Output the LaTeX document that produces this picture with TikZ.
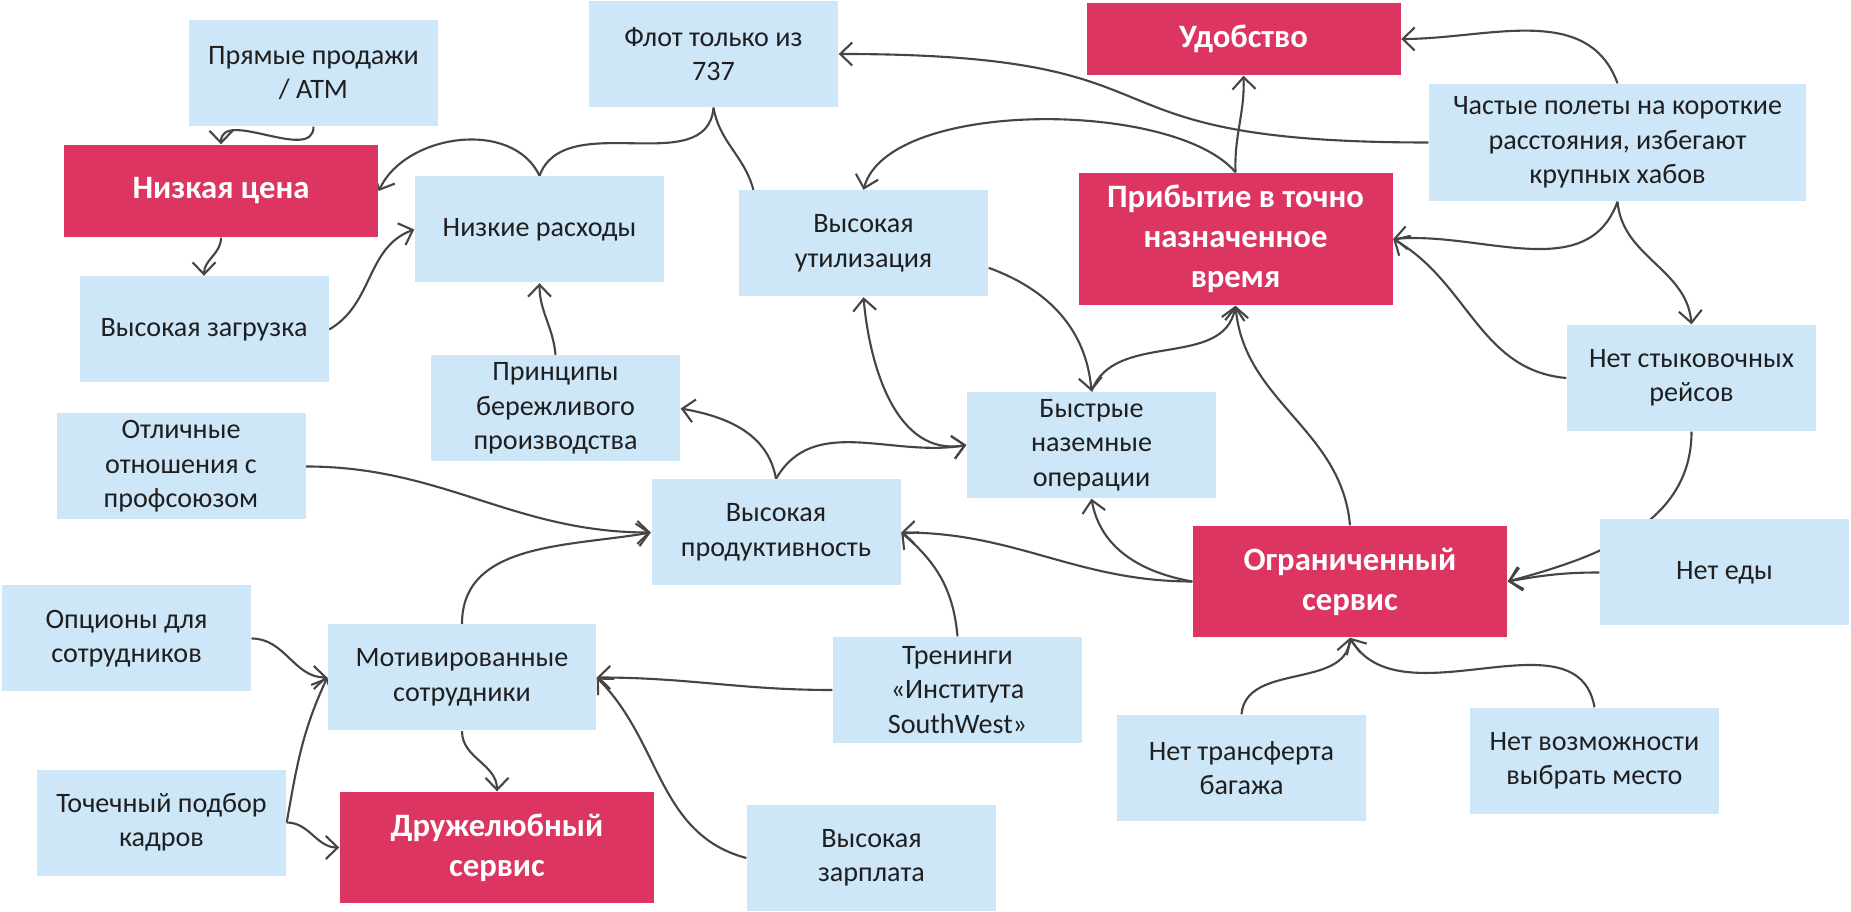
\documentclass[tikz,border=0pt]{standalone}
\usepackage{fontspec}
\setmainfont{Carlito}
\usetikzlibrary{arrows.meta,backgrounds}
\definecolor{ideablue}{HTML}{CDE6F8}
\definecolor{goalred}{HTML}{DC3562}
\definecolor{linkgray}{HTML}{454545}

\begin{document}
\begin{tikzpicture}[x=0.1mm, y=0.1mm,
        idea/.style={rectangle, fill=ideablue, text=black!88, align=center, inner sep=0pt,
            minimum width=24.9mm, minimum height=10.6mm, font=\fontsize{8}{9.8}\selectfont},
        goal/.style={rectangle, fill=goalred, text=white, align=center, inner sep=0pt,
            minimum width=31.4mm, minimum height=11.1mm, font=\fontsize{9.3}{11.4}\selectfont\bfseries},
        link/.style={->, >={Straight Barb[length=1.2mm, width=2.3mm]}, line width=0.6pt, color=linkgray}]
        \useasboundingbox (0,0) rectangle (1851,-912);

        \node[idea] (1) at (313.5,-73) {Прямые продажи\\/ ATM};
        \node[goal, minimum height=9.2mm] (2) at (221,-191) {Низкая цена};
        \node[idea] (3) at (713.5,-54) {Флот только из\\737};
        \node[idea] (4) at (539.5,-229.5) {Низкие расходы};
        \node[idea] (5) at (863.5,-243.5) {Высокая\\утилизация};
        \node[idea] (6) at (204,-329.5) {Высокая загрузка};
        \node[idea] (7) at (555.5,-408.5) {Принципы\\бережливого\\производства};
        \node[idea] (8) at (181,-466.5) {Отличные\\отношения с\\профсоюзом};
        \node[goal, minimum height=7.2mm] (9) at (1243.5,-39) {Удобство};
        \node[idea, minimum width=37.7mm, minimum height=11.7mm] (10) at (1617.5,-142.5) {Частые полеты на короткие\\расстояния, избегают\\крупных хабов};
        \node[goal, minimum height=13.2mm] (11) at (1235.5,-239) {Прибытие в точно\\назначенное\\время};
        \node[idea] (12) at (1691.5,-378) {Нет стыковочных\\рейсов};
        \node[idea] (13) at (1091.5,-445) {Быстрые\\наземные\\операции};
        \node[idea] (14) at (776,-532.5) {Высокая\\продуктивность};
        \node[goal] (15) at (1350,-581.5) {Ограниченный\\сервис};
        \node[idea] (16) at (1724.5,-572.5) {Нет еды};
        \node[idea] (17) at (126.5,-638.5) {Опционы для\\сотрудников};
        \node[idea, minimum width=26.8mm] (18) at (462,-677.5) {Мотивированные\\сотрудники};
        \node[idea] (19) at (957.5,-690) {Тренинги\\«Института\\SouthWest»};
        \node[idea] (20) at (161.5,-822.5) {Точечный подбор\\кадров};
        \node[goal] (21) at (497,-847.5) {Дружелюбный\\сервис};
        \node[idea] (22) at (871.5,-858) {Высокая\\зарплата};
        \node[idea] (23) at (1241.5,-768) {Нет трансферта\\багажа};
        \node[idea] (24) at (1594.5,-761) {Нет возможности\\выбрать место};

        \begin{scope}[on background layer]
            \fill[white] (0,0) rectangle (1851,-912);
            % left part
            \path[link] (1.south) edge[out=-90, in=90] (2.north)
                (4.north) edge[out=115, in=65] (2.east)
                (3.south) edge[-, out=-95, in=70] (4.north)
                (3.south) edge[-, out=-80, in=105] (5.154)
                (6.east) edge[out=30, in=200] (4.west)
                (2.south) edge[out=-90, in=90] (6.north)
                (7.north) edge[out=95, in=-90] (4.south)
                (14.north) edge[out=100, in=-10] (7.east)
                (14.north) edge[out=60, in=190] (13.west)
                (5.south) edge[<->, out=-85, in=190] (13.west);
            % top right
            \path[link] (10.west) edge[out=180, in=0, looseness=1.6] (3.east)
                (10.north) edge[out=110, in=0] (9.east)
                (10.south) edge[out=-110, in=5] (11.east)
                (10.south) edge[out=-85, in=95] (12.north)
                (11.north) edge[out=92, in=-88] (9.south)
                (11.north) edge[out=130, in=75, looseness=0.65] (5.north)
                (5.-11) edge[out=-20, in=95] (13.north)
                (13.north) edge[out=70, in=-100] (11.south)
                (12.west) edge[out=175, in=-30] (11.east);
            % limited service
            \path[link] (15.north) edge[out=95, in=-85] (11.south)
                (12.south) edge[out=-90, in=15] (15.east)
                (16.west) edge[out=180, in=10] (15.east)
                (15.west) edge[out=170, in=-80] (13.south)
                (15.west) edge[out=180, in=0] (14.east)
                (23.north) edge[out=85, in=-95] (15.south)
                (24.north) edge[out=100, in=-60] (15.south);
            % staff
            \path[link] (19.north) edge[out=95, in=-40] (14.east)
                (8.east) edge[out=0, in=180] (14.west)
                (18.north) edge[out=90, in=190] (14.west)
                (19.west) edge[out=180, in=0] (18.east)
                (22.west) edge[out=165, in=-45] (18.east)
                (17.east) edge[out=0, in=180] (18.west)
                (20.east) edge[out=80, in=-115] (18.west)
                (20.east) edge[out=0, in=180] (21.west)
                (18.south) edge[out=-90, in=90] (21.north);
        \end{scope}
    \end{tikzpicture}
\end{document}
